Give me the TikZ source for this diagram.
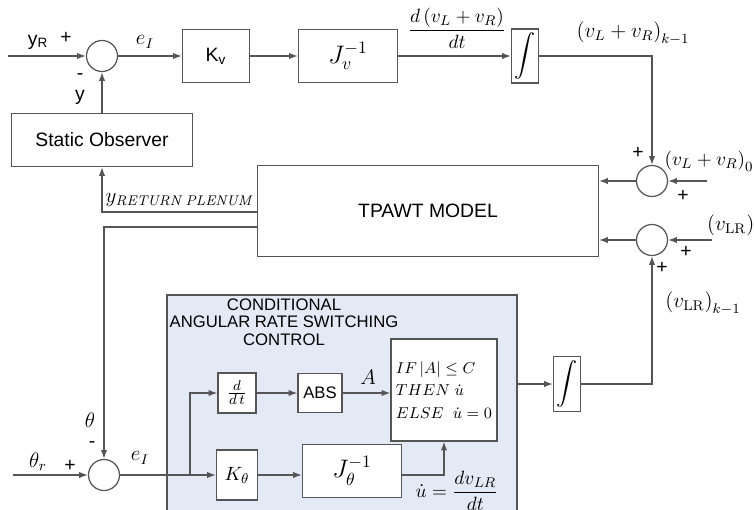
\documentclass[tikz,border=0pt]{standalone}
\usepackage{amsmath, amssymb}
\usepackage[no-math]{fontspec}
\setmainfont{Liberation Sans}
\usetikzlibrary{arrows.meta, positioning, calc}
\definecolor{linegray}{HTML}{555555}
\definecolor{ctrlblue}{HTML}{E4EAF5}

\begin{document}
\begin{tikzpicture}[>={Latex[length=5pt,width=3.6pt]}, x=0.02cm, y=-0.02cm,
  every node/.style={font=\fontsize{11}{13}\selectfont},
  blk/.style={draw=linegray, line width=0.7pt, fill=white, inner sep=0pt},
  sumc/.style={draw=linegray, line width=0.7pt, fill=white, circle, minimum size=0.62cm, inner sep=0pt},
  conn/.style={draw=linegray, line width=0.7pt, ->},
  lbl/.style={inner sep=1pt, font=\fontsize{12}{14}\selectfont}]
  \useasboundingbox (0,0) rectangle (754,510);
  \clip (0,0) rectangle (754,510);
  % velocity loop
  \coordinate (yin) at (8,56);
  \node[sumc] (sv) at (102,56) {};
  \node[blk, minimum width=1.34cm, minimum height=1.06cm] (kv) at (216,56) {K\textsubscript{v}};
  \node[blk, minimum width=1.98cm, minimum height=1.06cm] (jv) at (348,56) {\Large$J_v^{-1}$};
  \node[blk, minimum width=0.54cm, minimum height=1.08cm] (iv) at (525,56) {\large$\displaystyle\int$};
  \draw[conn] (yin) -- (sv); \node at (38,42){y\textsubscript{R}}; \node at (66,38){+};
  \draw[conn] (sv) -- (kv); \node[lbl] at (145,42){$e_I$};
  \draw[conn] (kv) -- (jv);
  \draw[conn] (jv) -- (iv); \node[lbl, font=\fontsize{11}{13}\selectfont] at (457,28){$\dfrac{d\left(v_L+v_R\right)}{dt}$};
  % observer and plant
  \node[blk, minimum width=3.62cm, minimum height=1.06cm] (obs) at (102,140) {Static Observer};
  \node[blk, minimum width=6.82cm, minimum height=1.82cm] (tp) at (428,211) {TPAWT MODEL};
  \node[sumc] (sa) at (652,181) {};
  \node[sumc] (sb) at (652,240) {};
  \coordinate (ain) at (707,181);
  \coordinate (bin) at (712,240);
  \coordinate (tpy) at (258,212);
  \coordinate (tpth) at (258,227);
  \draw[conn] (iv) -| (sa); \node[lbl] at (633,33){$\left(v_L+v_R\right)_{k-1}$};
  \draw[conn] (ain) -- (sa); \node at (638,153){+}; \node at (683,196){+};
  \node[lbl, font=\fontsize{11}{13}\selectfont] at (709,161){$\left(v_L+v_R\right)_0$};
  \draw[conn] (sa) -- (tp.east |- sa);
  \draw[conn] (bin) -- (sb); \node at (686,252){+}; \node at (662,268){+};
  \node[lbl, anchor=west] at (705,226){$\left(v_{\mathrm{LR}}\right)_0$};
  \draw[conn] (sb) -- (tp.east |- sb);
  \draw[conn] (tpy) -| (obs); \node[lbl] at (180,200){$y_{\mathit{RETURN\,PLENUM}}$};
  \draw[conn] (obs) -- (sv); \node at (80,77){-}; \node at (80,97){y};
  % angular rate switching control
  \node[draw=linegray, line width=0.7pt, fill=ctrlblue, minimum width=7cm, minimum height=4.6cm, inner sep=0pt] (ctrl) at (342,410) {};
  \node[align=center, font=\fontsize{9.5}{10}\selectfont] (ctrltitle) at (284,322) {CONDITIONAL\\ANGULAR RATE SWITCHING\\CONTROL};
  \node[sumc] (st) at (104,475) {};
  \coordinate (thin) at (13,475);
  \coordinate (br) at (190,475);
  \node[blk, minimum width=0.76cm, minimum height=0.8cm] (ddt) at (237,393) {$\frac{d}{d\,t}$};
  \node[blk, minimum width=0.88cm, minimum height=0.78cm, font=\fontsize{9.5}{11}\selectfont] (abs) at (320,393) {ABS};
  \node[blk, minimum width=2.12cm, minimum height=2.04cm, align=left, font=\fontsize{9.5}{13}\selectfont] (ifb) at (444,390)
    {$IF\,|A|\le C$\\$THEN\ \dot u$\\$ELSE\ \ \dot u=0$};
  \node[blk, minimum width=0.82cm, minimum height=1.0cm] (kth) at (237,475) {$K_\theta$};
  \node[blk, minimum width=1.98cm, minimum height=1.06cm] (jth) at (352,471) {\Large$J_\theta^{-1}$};
  \node[blk, minimum width=0.54cm, minimum height=1.1cm] (il) at (567,384) {\large$\displaystyle\int$};
  \draw[conn] (tpth) -| (st); \node[lbl] at (90,420){$\theta$}; \node at (92,445){-};
  \draw[conn] (thin) -- (st); \node[lbl] at (38,462){$\theta_r$}; \node at (70,466){+};
  \draw[conn] (st) -- (kth); \node[lbl] at (140,458){$e_I$};
  \draw[conn] (br) |- (ddt);
  \draw[conn] (ddt) -- (abs);
  \draw[conn] (abs) -- (ifb.west |- abs); \node[lbl] at (368,377){$A$};
  \draw[conn] (kth) -- (jth.west |- kth);
  \draw[conn] (jth.east |- kth) -| (ifb);
  \node[lbl, font=\fontsize{11}{13}\selectfont] at (457,491){$\dot u=\dfrac{dv_{LR}}{dt}$};
  \draw[conn] (ctrl.east |- il) -- (il);
  \draw[conn] (il) -| (sb); \node[lbl] at (703,303){$\left(v_{\mathrm{LR}}\right)_{k-1}$};
\end{tikzpicture}
\end{document}
